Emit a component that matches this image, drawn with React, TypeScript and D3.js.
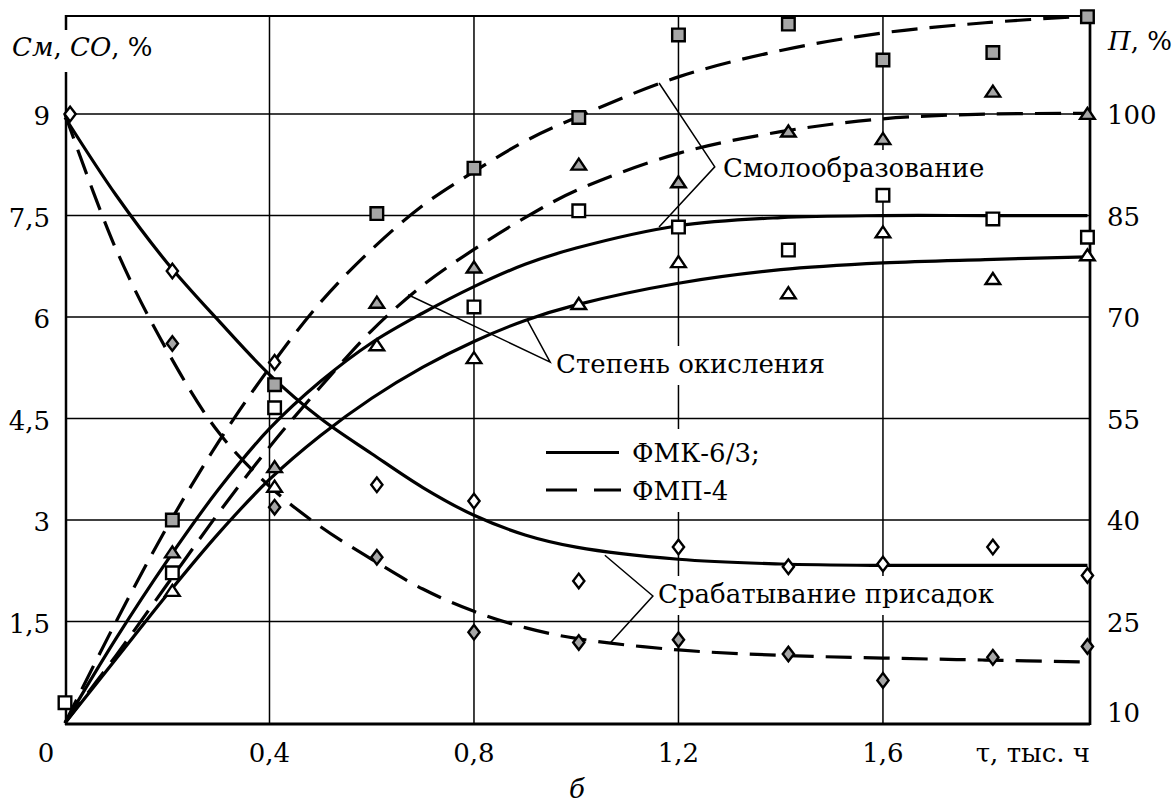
import React, { useEffect, useRef } from 'react'
import * as d3 from 'd3'

const W = 1175
const H = 805
const FONT = "'DejaVu Serif', serif"
const FS = 26

// время, тыс. ч (точки измерений)
const tau = [0.21, 0.41, 0.61, 0.8, 1.005, 1.2, 1.415, 1.6, 1.815, 2.0]

// смолообразование
const smolFmpTau = tau
const smolFmpVals = [3.0, 5.0, 7.53, 8.2, 8.95, 10.17, 10.33, 9.8, 9.91, 10.44]
const smolFmkTau = [0.0, 0.21, 0.41, 0.8, 1.005, 1.2, 1.415, 1.6, 1.815, 2.0]
const smolFmkVals = [0.3, 2.22, 4.66, 6.15, 7.57, 7.33, 6.99, 7.8, 7.45, 7.18]

// степень окисления
const okFmpVals = [2.53, 3.79, 6.22, 6.74, 8.26, 8.0, 8.75, 8.64, 9.34, 9.01]
const okFmkVals = [1.96, 3.5, 5.59, 5.4, 6.2, 6.82, 6.36, 7.26, 6.57, 6.92]

// срабатывание присадок
const prFmkTau = [0.01, 0.21, 0.41, 0.61, 0.8, 1.005, 1.2, 1.415, 1.6, 1.815, 2.0]
const prFmkVals = [9.0, 6.68, 5.33, 3.52, 3.28, 2.1, 2.6, 2.31, 2.35, 2.6, 2.18]
const prFmpVals = [5.61, 3.19, 2.45, 1.34, 1.19, 1.23, 1.02, 0.63, 0.97, 1.13]

// аппроксимирующие кривые
const curveTau = [0, 0.1, 0.2, 0.3, 0.4, 0.5, 0.6, 0.7, 0.8, 0.9, 1.0, 1.2, 1.4, 1.6, 1.8, 2.0]
const smolFmpLine = [0, 1.5, 2.9, 4.15, 5.25, 6.22, 7.0, 7.65, 8.15, 8.6, 8.95, 9.55, 9.94, 10.2, 10.35, 10.45]
const okFmpLine = [0, 1.0, 2.05, 3.1, 4.08, 4.97, 5.8, 6.47, 7.0, 7.47, 7.87, 8.42, 8.74, 8.93, 9.0, 9.01]
const smolFmkLine = [0, 1.25, 2.4, 3.45, 4.35, 5.05, 5.62, 6.06, 6.45, 6.78, 7.02, 7.35, 7.47, 7.5, 7.5, 7.5]
const okFmkLine = [0, 0.95, 1.9, 2.8, 3.6, 4.25, 4.8, 5.26, 5.64, 5.95, 6.18, 6.5, 6.7, 6.8, 6.85, 6.89]
const prFmkLine = [8.95, 7.8, 6.8, 5.95, 5.15, 4.5, 3.98, 3.48, 3.07, 2.78, 2.6, 2.42, 2.35, 2.33, 2.33, 2.33]
const prFmpLine = [9.0, 7.0, 5.5, 4.3, 3.5, 2.9, 2.42, 1.98, 1.65, 1.41, 1.25, 1.08, 1.0, 0.96, 0.93, 0.9]

// оси
const xTicks = [0.4, 0.8, 1.2, 1.6]
const xTickLabels = ['0,4', '0,8', '1,2', '1,6']
const yTicks = [1.5, 3, 4.5, 6, 7.5, 9]
const yTickLabels = ['1,5', '3', '4,5', '6', '7,5', '9']
const pTicks = [10, 25, 40, 55, 70, 85, 100]

// выноски: [вершина, конец1, конец2] в координатах данных
const leaders = [
  { text: 'Смолообразование', tx: 723, ty: 177, pts: [[1.271, 8.22], [1.162, 9.46], [1.162, 7.33]] },
  { text: 'Степень окисления', tx: 556, ty: 373, pts: [[0.949, 5.335], [0.671, 6.33], [0.904, 5.96]] },
  { text: 'Срабатывание присадок', tx: 658, ty: 603, pts: [[1.15, 1.877], [1.056, 2.48], [1.066, 1.18]] },
]

const GRAY = '#a6a6a6'

export default function App() {
  const ref = useRef<SVGSVGElement>(null)

  useEffect(() => {
    const svg = d3.select(ref.current)
    svg.selectAll('*').remove()

    const x = d3.scaleLinear().domain([0, 2.005]).range([65, 1090])
    const y = d3.scaleLinear().domain([0, 10.45]).range([723, 16])
    const yP = d3.scaleLinear().domain([10, 114.5]).range([723, 16])

    const g = svg.append('g')

    // сетка
    g.selectAll('.hgrid').data(yTicks).join('line')
      .attr('x1', x(0)).attr('x2', 1090)
      .attr('y1', d => y(d)).attr('y2', d => y(d))
      .attr('stroke', '#000').attr('stroke-width', 1.5)
    g.selectAll('.vgrid').data(xTicks).join('line')
      .attr('x1', d => x(d)).attr('x2', d => x(d))
      .attr('y1', 16).attr('y2', 723)
      .attr('stroke', '#000').attr('stroke-width', 1.5)

    // рамка
    g.append('line').attr('x1', 65).attr('x2', 1090).attr('y1', 16).attr('y2', 16).attr('stroke', '#000').attr('stroke-width', 1.8)
    g.append('line').attr('x1', 65).attr('x2', 1090).attr('y1', 724).attr('y2', 724).attr('stroke', '#000').attr('stroke-width', 3)
    g.append('line').attr('x1', 66).attr('x2', 66).attr('y1', 15).attr('y2', 725).attr('stroke', '#000').attr('stroke-width', 2.5)
    g.append('line').attr('x1', 1090).attr('x2', 1090).attr('y1', 15).attr('y2', 725).attr('stroke', '#000').attr('stroke-width', 2.7)

    const txt = (sel: any) => sel.attr('font-family', FONT).attr('font-size', FS).attr('fill', '#000')

    // белые подложки под подписи
    const whiteBox = (node: SVGTextElement, padX: number, padTop: number, padBot: number) => {
      const b = node.getBBox()
      g.insert('rect', '.textlayer')
        .attr('x', b.x - padX).attr('y', b.y - padTop)
        .attr('width', b.width + 2 * padX).attr('height', b.height + padTop + padBot)
        .attr('fill', '#fff')
    }

    const textLayer = g.append('g').attr('class', 'textlayer')

    // подписи осей
    textLayer.selectAll('.ylab').data(yTicks).join('text')
      .call(txt).attr('text-anchor', 'end')
      .attr('x', 50).attr('y', d => y(d) + 11)
      .text((d, i) => yTickLabels[i])
    textLayer.selectAll('.plab').data(pTicks).join('text')
      .call(txt).attr('text-anchor', 'start')
      .attr('x', 1107).attr('y', d => (d === 10 ? yP(d) - 1 : yP(d) + 10))
      .text(d => String(d))
    textLayer.selectAll('.xlab').data(xTicks).join('text')
      .call(txt).attr('text-anchor', 'middle')
      .attr('x', d => x(d)).attr('y', 762)
      .text((d, i) => xTickLabels[i])
    textLayer.append('text').call(txt).attr('text-anchor', 'middle').attr('x', 46).attr('y', 762).text('0')
    textLayer.append('text').call(txt).attr('text-anchor', 'end').attr('x', 1090).attr('y', 762).text('τ, тыс. ч')
    textLayer.append('text').call(txt).attr('text-anchor', 'middle').attr('x', 577).attr('y', 798)
      .attr('font-style', 'italic').text('б')

    const title = textLayer.append('text').call(txt).attr('x', 12).attr('y', 56)
    title.append('tspan').attr('font-style', 'italic').text('См')
    title.append('tspan').text(', ')
    title.append('tspan').attr('font-style', 'italic').text('СО')
    title.append('tspan').text(', %')
    whiteBox(title.node() as SVGTextElement, 2, 2, 10)

    const pTitle = textLayer.append('text').call(txt).attr('x', 1108).attr('y', 50)
    pTitle.append('tspan').attr('font-style', 'italic').text('П')
    pTitle.append('tspan').text(', %')

    // выноски
    leaders.forEach(l => {
      const t = textLayer.append('text').call(txt).attr('x', l.tx).attr('y', l.ty).text(l.text)
      whiteBox(t.node() as SVGTextElement, 2, 3, 6)
    })

    // легенда
    g.insert('rect', '.textlayer').attr('x', 540).attr('y', 429).attr('width', 215).attr('height', 83).attr('fill', '#fff')
    textLayer.append('line').attr('x1', 546).attr('x2', 619).attr('y1', 452.5).attr('y2', 452.5)
      .attr('stroke', '#000').attr('stroke-width', 3.2)
    textLayer.append('line').attr('x1', 546).attr('x2', 621).attr('y1', 490).attr('y2', 490)
      .attr('stroke', '#000').attr('stroke-width', 3.2).attr('stroke-dasharray', '31 17')
    textLayer.append('text').call(txt).attr('x', 632).attr('y', 462).text('ФМК-6/3;')
    textLayer.append('text').call(txt).attr('x', 632).attr('y', 500).text('ФМП-4')

    // линии выносок
    const leaderLine = d3.line<number[]>().x(d => x(d[0])).y(d => y(d[1]))
    leaders.forEach(l => {
      g.append('path').attr('d', leaderLine([l.pts[1], l.pts[0], l.pts[2]]))
        .attr('fill', 'none').attr('stroke', '#000').attr('stroke-width', 1.5)
    })

    // кривые
    const line = d3.line<number>().x((d, i) => x(curveTau[i])).y(d => y(d)).curve(d3.curveCatmullRom.alpha(0.5))
    const curves = [
      { v: smolFmpLine, dash: true },
      { v: okFmpLine, dash: true },
      { v: prFmpLine, dash: true },
      { v: smolFmkLine, dash: false },
      { v: okFmkLine, dash: false },
      { v: prFmkLine, dash: false },
    ]
    curves.forEach(c => {
      g.append('path').attr('d', line(c.v))
        .attr('fill', 'none').attr('stroke', '#000').attr('stroke-width', 3.2)
        .attr('stroke-dasharray', c.dash ? '26 12' : null)
    })

    // маркеры
    const square = 'M-6.3,-6.3h12.6v12.6h-12.6Z'
    const tri = 'M0,-5.5L7.3,5.5L-7.3,5.5Z'
    const diamond = 'M0,-7.3L5.6,0L0,7.3L-5.6,0Z'
    const markers = [
      { t: smolFmpTau, v: smolFmpVals, p: square, fill: GRAY },
      { t: smolFmkTau, v: smolFmkVals, p: square, fill: '#fff' },
      { t: tau, v: okFmpVals, p: tri, fill: GRAY },
      { t: tau, v: okFmkVals, p: tri, fill: '#fff' },
      { t: tau, v: prFmpVals, p: diamond, fill: GRAY },
      { t: prFmkTau, v: prFmkVals, p: diamond, fill: '#fff' },
    ]
    markers.forEach(m => {
      g.append('g').selectAll('path').data(m.v).join('path')
        .attr('d', m.p)
        .attr('transform', (d, i) => `translate(${x(m.t[i])},${y(d)})`)
        .attr('fill', m.fill).attr('stroke', '#000').attr('stroke-width', 2.4)
    })
  }, [])

  return (
    <svg ref={ref} width={W} height={H}
      style={{ position: 'absolute', left: 0, top: 0, background: '#fff' }} />
  )
}
